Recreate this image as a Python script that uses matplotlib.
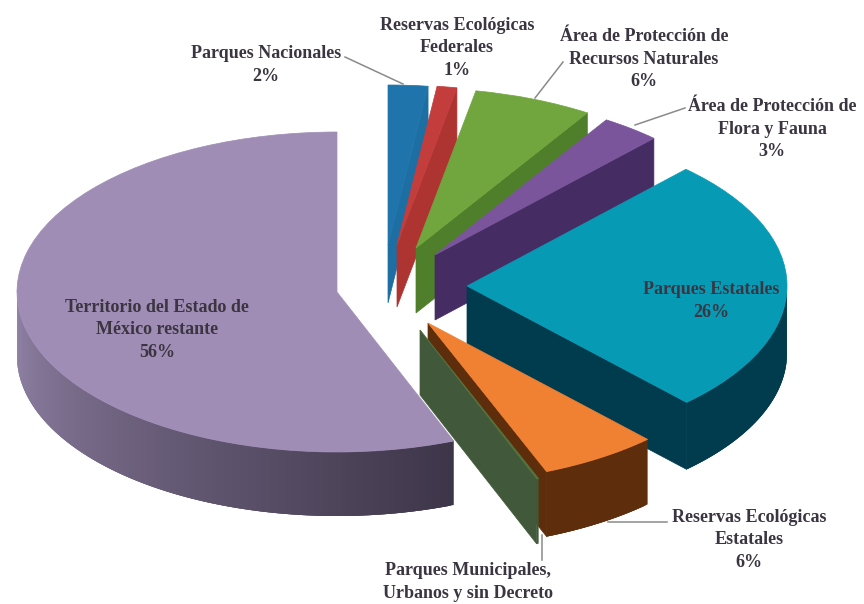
import numpy as np
import matplotlib
matplotlib.use("Agg")
import matplotlib.pyplot as plt
from matplotlib.patches import Wedge, Polygon
from matplotlib.transforms import Affine2D
from matplotlib.colors import to_rgb

# slices clockwise from 12 o'clock
names = ["Parques Nacionales", "Reservas Ecológicas\nFederales",
         "Área de Protección de\nRecursos Naturales", "Área de Protección de\nFlora y Fauna",
         "Parques Estatales", "Reservas Ecológicas\nEstatales",
         "Parques Municipales,\nUrbanos y sin Decreto", "Territorio del Estado de\nMéxico restante"]
values = [2, 1, 6, 3, 26, 6, 0.1, 56]
pct_labels = ["2%", "1%", "6%", "3%", "26%", "6%", "", "56%"]

top_colors = ["#1f74ab", "#c43d3d", "#70a63d", "#7a559b", "#069ab5", "#f08032", "#55743f", "#a08db6"]
cut_colors = ["#1c6ea3", "#ad3431", "#4f7f2a", "#452c63", "#003c4e", "#5e2e0c", "#41593a", "#3d3548"]
rim_dark = ["#1c6ea3", "#ad3431", "#4f7f2a", "#452c63", "#003c4e", "#5e2e0c", "#41593a", "#3d3548"]
rim_light = ["#1c6ea3", "#ad3431", "#4f7f2a", "#452c63", "#003c4e", "#5e2e0c", "#41593a", "#9384a8"]

# where each exploded slice sits (apex of the top face, in pixels)
apex = [(388, 245), (397, 245), (416, 248), (435, 255), (467, 286), (428, 323), (420, 330), (337, 292)]
depth = [58, 62, 65, 65, 67, 65, 65, 64]
draw_order = [0, 1, 2, 3, 7, 4, 5, 6]

RX = 320
RY = 160

label_pos = [(266, 65), (457, 48), (644, 59), (772, 129), (711, 301), (749, 540), (468, 582), (157, 330)]
text_dark = "#3a3540"

leaders = [((345, 57), (403, 84)), ((563, 62), (535, 98)), ((685, 108), (635, 125)),
           ((667, 522), (608, 522)), ((542, 560), (542, 535))]

fig = plt.figure(figsize=(8.64, 6.04), dpi=100)
ax = fig.add_axes([0, 0, 1, 1])
ax.set_xlim(0, 864)
ax.set_ylim(604, 0)
ax.axis("off")


def rim_xy(cx, cy, a):
    r = np.radians(a)
    return cx + RX * np.sin(r), cy - RY * np.cos(r)


angles = np.cumsum([0] + values) / sum(values) * 360

for i in draw_order:
    a0, a1 = angles[i], angles[i + 1]
    cx, cy = apex[i]
    d = depth[i]

    # flat cut face at the clockwise end of the slice
    if a1 < 180:
        ex, ey = rim_xy(cx, cy, a1)
        ax.add_patch(Polygon([(cx, cy), (ex, ey), (ex, ey + d), (cx, cy + d)],
                             fc=cut_colors[i], ec=cut_colors[i], lw=0.5))

    # outer wall, only the part facing the viewer
    lo, hi = max(a0, 90), min(a1, 270)
    if hi > lo:
        steps = np.linspace(lo, hi, int((hi - lo) * 2) + 2)
        c_l = np.array(to_rgb(rim_light[i]))
        c_d = np.array(to_rgb(rim_dark[i]))
        # each strip runs under the next one so no seams show
        for k in range(len(steps) - 1):
            a = steps[k]
            b = steps[min(k + 3, len(steps) - 1)]
            arc = np.linspace(a, b, 5)
            xs, ys = rim_xy(cx, cy, arc)
            t = (a - lo) / (hi - lo)
            col = c_d + (c_l - c_d) * t
            pts = list(zip(xs, ys)) + list(zip(xs[::-1], ys[::-1] + d))
            ax.add_patch(Polygon(pts, fc=col, ec="none"))

    # top face: a circle wedge squashed into the ellipse
    tr = Affine2D().scale(1, -RY / RX).translate(cx, cy) + ax.transData
    ax.add_patch(Wedge((0, 0), RX, 90 - a1, 90 - a0, fc=top_colors[i], ec=top_colors[i],
                       lw=0.5, transform=tr))

for (p, q) in leaders:
    ax.plot([p[0], q[0]], [p[1], q[1]], color="#8a8a8a", lw=1.1)

for i, name in enumerate(names):
    txt = name if pct_labels[i] == "" else name + "\n" + pct_labels[i]
    ax.text(label_pos[i][0], label_pos[i][1], txt, ha="center", va="center", fontsize=13,
            family="Liberation Serif", weight="bold", color=text_dark, linespacing=1.46)

fig.savefig("out.png", dpi=100)
